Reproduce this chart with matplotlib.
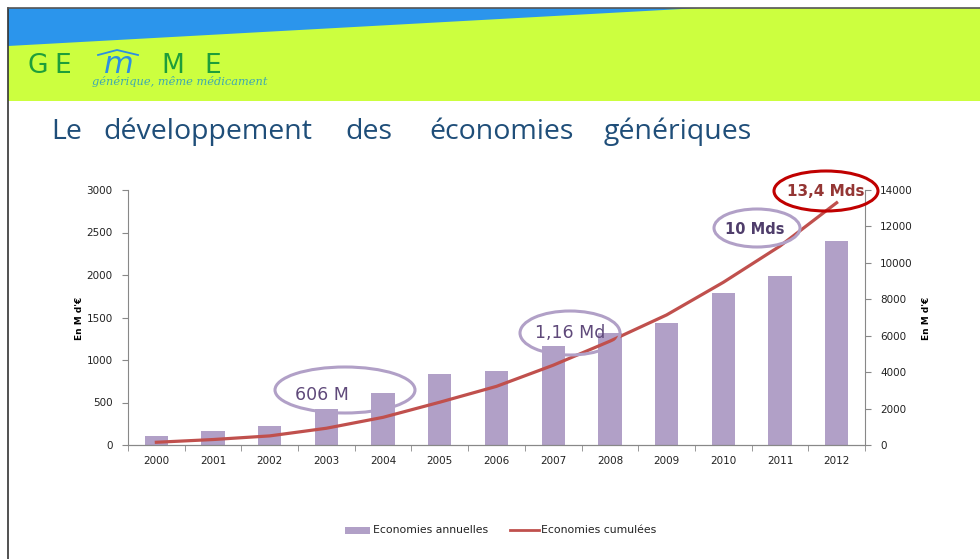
import matplotlib
matplotlib.use("Agg")
import matplotlib.pyplot as plt
from matplotlib.patches import Ellipse, Polygon, Rectangle
from matplotlib.lines import Line2D
import numpy as np

years = ["2000", "2001", "2002", "2003", "2004", "2005", "2006",
         "2007", "2008", "2009", "2010", "2011", "2012"]
annual = [105, 165, 220, 420, 606, 840, 870, 1160, 1320, 1440, 1790, 1990, 2400]
cumulative = [150, 300, 500, 920, 1520, 2350, 3220, 4380, 5700, 7140, 8930, 10920, 13300]

left_ticks = [0, 500, 1000, 1500, 2000, 2500, 3000]
right_ticks = [0, 2000, 4000, 6000, 8000, 10000, 12000, 14000]

title_words = ["Le", "développement", "des", "économies", "génériques"]
title_centres = [67, 208, 369, 502, 678]

W, H = 980, 559
fig = plt.figure(figsize=(W / 100, H / 100), dpi=100)
fig.patch.set_facecolor("white")


def fx(x):
    return x / W


def fy(y):
    return 1 - y / H


# Header bands
fig.patches.append(Rectangle((fx(8), fy(101)), fx(980) - fx(8), fy(8) - fy(101),
                             transform=fig.transFigure, facecolor="#CCFF3F", edgecolor="none", zorder=0))
fig.patches.append(Polygon([(fx(8), fy(8)), (fx(700), fy(8)), (fx(8), fy(46))],
                           closed=True, transform=fig.transFigure, facecolor="#2B95EC",
                           edgecolor="none", zorder=1))
# frame lines
fig.add_artist(Line2D([fx(8), fx(8)], [fy(8), fy(559)], transform=fig.transFigure, color="#333333", lw=1.2))
fig.add_artist(Line2D([fx(8), fx(980)], [fy(8), fy(8)], transform=fig.transFigure, color="#555555", lw=1.2))

# Logo
green = "#1E9E3A"
for ch, x in [("G", 27), ("E", 54), ("M", 161), ("E", 204)]:
    fig.text(fx(x), fy(73), ch, color=green, fontsize=19, fontfamily="DejaVu Sans",
             ha="left", va="baseline")
fig.text(fx(119), fy(73), "m", color="#2D8FE0", fontsize=22, fontstyle="italic",
         fontfamily="DejaVu Sans", ha="center", va="baseline")
fig.add_artist(Line2D([fx(98), fx(117), fx(138)], [fy(55), fy(50), fy(55)],
                      transform=fig.transFigure, color="#2D8FE0", lw=1.3))
fig.text(fx(92), fy(85), "générique, même médicament", color="#3FA8B0", fontsize=8.2,
         fontstyle="italic", fontfamily="DejaVu Serif", ha="left", va="baseline")

# Title
for word, cx in zip(title_words, title_centres):
    fig.text(fx(cx), fy(139), word, color="#1F4E79", fontsize=20.5, fontfamily="Open Sans",
             ha="center", va="baseline")

# Axes
ax = fig.add_axes([fx(128), fy(445), fx(865) - fx(128), fy(190) - fy(445)])
ax2 = ax.twinx()
x = np.arange(len(years))
ax.bar(x, annual, width=0.41, color="#B1A0C7", zorder=2)
ax2.plot(x, cumulative, color="#C0504D", lw=2.3, zorder=3)

ax.set_xlim(-0.5, len(years) - 0.5)
ax.set_ylim(0, 3000)
ax2.set_ylim(0, 14000)
ax.set_yticks(left_ticks)
ax2.set_yticks(right_ticks)
ax.set_xticks(x)
ax.set_xticklabels(years)
ax.set_xticks(np.arange(-0.5, len(years), 1), minor=True)
ax.tick_params(axis="x", which="major", length=0, labelsize=7.5, pad=8, colors="#222222")
ax.tick_params(axis="x", which="minor", length=4, color="#888888")
ax.tick_params(axis="y", length=4, color="#888888", labelsize=7.5, labelcolor="#222222", pad=7)
ax2.tick_params(axis="y", length=4, color="#888888", labelsize=7.5, labelcolor="#222222", pad=7)
for a in (ax, ax2):
    a.spines["top"].set_visible(False)
    a.spines["left"].set_color("#888888")
    a.spines["right"].set_color("#888888")
    a.spines["bottom"].set_color("#888888")
    a.patch.set_alpha(0)
ax.spines["right"].set_visible(False)
ax2.spines["left"].set_visible(False)

fig.text(fx(80), fy(318), "En M d'€", rotation=90, fontsize=6.5, fontweight="bold",
         ha="center", va="center")
fig.text(fx(926), fy(318), "En M d'€", rotation=90, fontsize=6.5, fontweight="bold",
         ha="center", va="center")

# Callouts: (text, ellipse centre x, y, width, height, edge, text colour, weight, size, text x, text y)
callouts = [
    ("606 M", 345, 390, 140, 46, "#B1A0C7", "#5F497A", "normal", 12.5, 322, 395),
    ("1,16 Md", 570, 333, 100, 44, "#B1A0C7", "#5F497A", "normal", 12.5, 570, 333),
    ("10 Mds", 757, 228, 86, 38, "#B1A0C7", "#4F3D6B", "bold", 10.5, 755, 229),
    ("13,4 Mds", 826, 191, 104, 40, "#C00000", "#943634", "bold", 11, 826, 192),
]
for txt, cx, cy, w, h, ec, tc, fw, fs, tx, ty in callouts:
    fig.patches.append(Ellipse((fx(cx), fy(cy)), w / W, h / H, transform=fig.transFigure,
                               facecolor="none", edgecolor=ec, lw=2.2, zorder=5))
    fig.text(fx(tx), fy(ty), txt, color=tc, fontsize=fs, fontweight=fw,
             ha="center", va="center", zorder=6)

# Legend
fig.patches.append(Rectangle((fx(345), fy(534)), 25 / W, 7 / H, transform=fig.transFigure,
                             facecolor="#B1A0C7", edgecolor="none"))
fig.text(fx(373), fy(530), "Economies annuelles", fontsize=7.8, ha="left", va="center", color="#222222")
fig.add_artist(Line2D([fx(510), fx(539)], [fy(530), fy(530)], transform=fig.transFigure,
                      color="#C0504D", lw=2))
fig.text(fx(541), fy(530), "Economies cumulées", fontsize=7.8, ha="left", va="center", color="#222222")

fig.savefig("out.png", dpi=100)
